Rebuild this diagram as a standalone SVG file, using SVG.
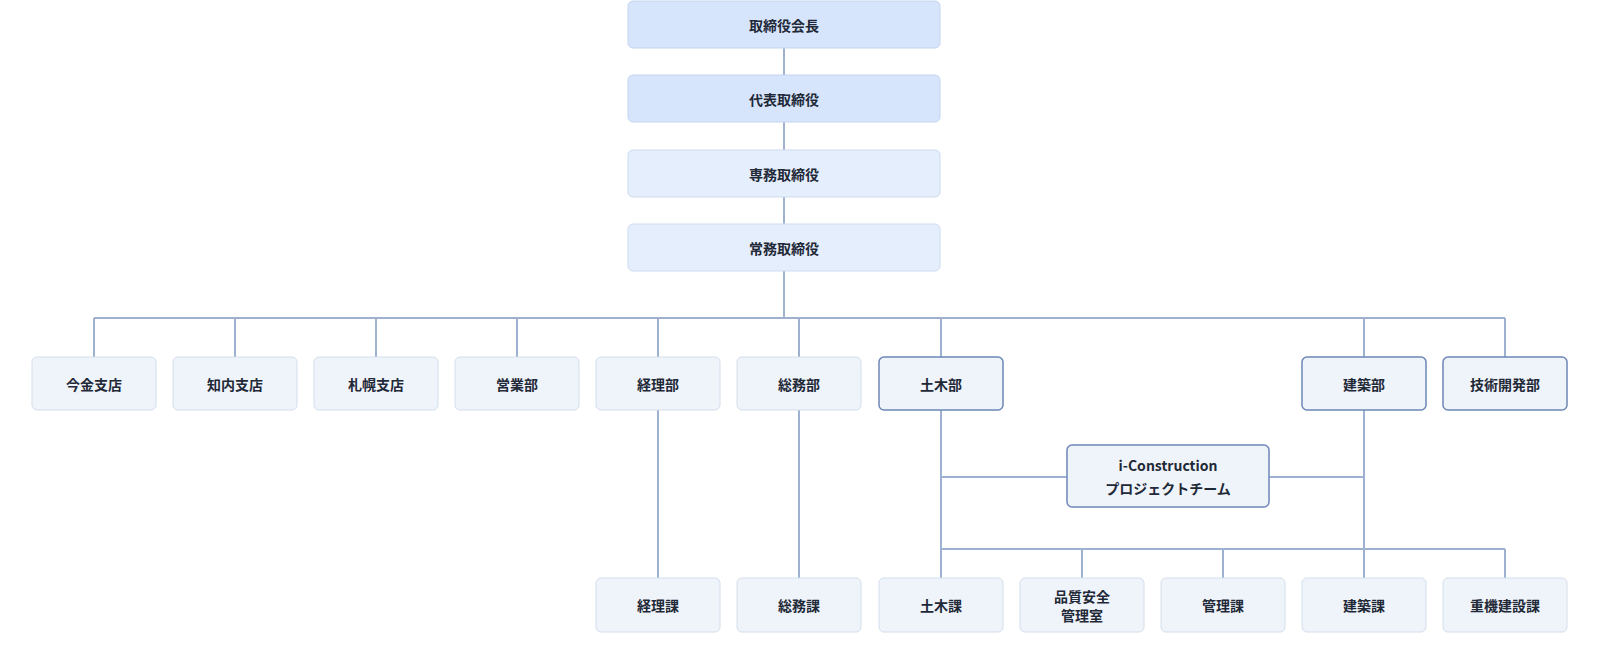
<svg xmlns="http://www.w3.org/2000/svg" width="1600" height="646" viewBox="0 0 1600 646">
<style>
text{font-family:"Noto Sans CJK JP","Noto Sans",sans-serif;font-size:14px;font-weight:bold;fill:#1f2937;text-anchor:middle;dominant-baseline:central}
.n rect{fill:#eff4fb;stroke:#d3deec;stroke-width:1}
.d rect{fill:#eff4fb;stroke:#6d87b6;stroke-width:1.5}
.t1 rect{fill:#d6e5fc;stroke:#c4d5ee}
.t2 rect{fill:#e5eefc;stroke:#cddbee}
#connectors path{fill:none;stroke:#9eb1d0;stroke-width:2}
</style>
<rect width="1600" height="646" fill="#fff"/>
<g id="connectors">
<path d="M784 48V75M784 122V150M784 197V224M784 271V318"/>
<path d="M94 318H1505M94 318V357M235 318V357M376 318V357M517 318V357M658 318V357M799 318V357M941 318V357M1364 318V357M1505 318V357"/>
<path d="M658 410V578M799 410V578M941 410V578M1364 410V578"/>
<path d="M941 477H1067M1269 477H1364"/>
<path d="M941 549H1505M1082 549V578M1223 549V578M1505 549V578"/>
</g>
<g id="n1" class="t1"><rect x="628" y="1" width="312" height="47" rx="5"/><text x="784" y="24.5">取締役会長</text></g>
<g id="n2" class="t1"><rect x="628" y="75" width="312" height="47" rx="5"/><text x="784" y="98.5">代表取締役</text></g>
<g id="n3" class="t2"><rect x="628" y="150" width="312" height="47" rx="5"/><text x="784" y="173.5">専務取締役</text></g>
<g id="n4" class="t2"><rect x="628" y="224" width="312" height="47" rx="5"/><text x="784" y="247.5">常務取締役</text></g>
<g id="n5" class="n"><rect x="32" y="357" width="124" height="53" rx="5"/><text x="94" y="383.5">今金支店</text></g>
<g id="n6" class="n"><rect x="173" y="357" width="124" height="53" rx="5"/><text x="235" y="383.5">知内支店</text></g>
<g id="n7" class="n"><rect x="314" y="357" width="124" height="53" rx="5"/><text x="376" y="383.5">札幌支店</text></g>
<g id="n8" class="n"><rect x="455" y="357" width="124" height="53" rx="5"/><text x="517" y="383.5">営業部</text></g>
<g id="n9" class="n"><rect x="596" y="357" width="124" height="53" rx="5"/><text x="658" y="383.5">経理部</text></g>
<g id="n10" class="n"><rect x="737" y="357" width="124" height="53" rx="5"/><text x="799" y="383.5">総務部</text></g>
<g id="n11" class="d"><rect x="879" y="357" width="124" height="53" rx="5"/><text x="941" y="383.5">土木部</text></g>
<g id="n12" class="d"><rect x="1302" y="357" width="124" height="53" rx="5"/><text x="1364" y="383.5">建築部</text></g>
<g id="n13" class="d"><rect x="1443" y="357" width="124" height="53" rx="5"/><text x="1505" y="383.5">技術開発部</text></g>
<g id="n14" class="d"><rect x="1067" y="445" width="202" height="62" rx="5"/><text x="1168" y="465">i-Construction</text><text x="1168" y="488">プロジェクトチーム</text></g>
<g id="n15" class="n"><rect x="596" y="578" width="124" height="54" rx="5"/><text x="658" y="605">経理課</text></g>
<g id="n16" class="n"><rect x="737" y="578" width="124" height="54" rx="5"/><text x="799" y="605">総務課</text></g>
<g id="n17" class="n"><rect x="879" y="578" width="124" height="54" rx="5"/><text x="941" y="605">土木課</text></g>
<g id="n18" class="n"><rect x="1020" y="578" width="124" height="54" rx="5"/><text x="1082" y="596">品質安全</text><text x="1082" y="615">管理室</text></g>
<g id="n19" class="n"><rect x="1161" y="578" width="124" height="54" rx="5"/><text x="1223" y="605">管理課</text></g>
<g id="n20" class="n"><rect x="1302" y="578" width="124" height="54" rx="5"/><text x="1364" y="605">建築課</text></g>
<g id="n21" class="n"><rect x="1443" y="578" width="124" height="54" rx="5"/><text x="1505" y="605">重機建設課</text></g>
</svg>
